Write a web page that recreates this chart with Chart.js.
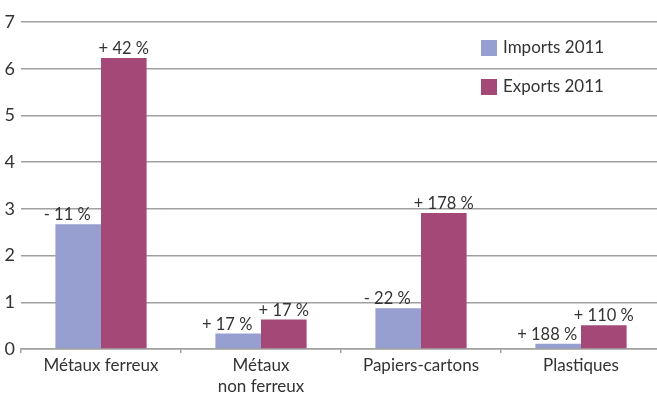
<!DOCTYPE html>
<html>
<head>
<meta charset="utf-8">
<script src="https://cdn.jsdelivr.net/npm/chart.js@4.4.0/dist/chart.umd.min.js"></script>
<style>
  html, body { margin: 0; padding: 0; background: #fff; overflow: hidden; }
  #wrap { width: 661px; height: 395px; position: relative; }
</style>
</head>
<body>
<div id="wrap"><canvas id="c"></canvas></div>
<script>
// Tonnages (millions of tonnes) of recovered materials, 2011
const categories = [['Métaux ferreux'], ['Métaux', 'non ferreux'], ['Papiers-cartons'], ['Plastiques']];
const seriesNames = ['Imports 2011', 'Exports 2011'];
const imports2011 = [2.67, 0.33, 0.87, 0.11];
const exports2011 = [6.23, 0.63, 2.91, 0.51];
// Change versus previous year, printed over each bar
const importChange = ['- 11 %', '+ 17 %', '- 22 %', '+ 188 %'];
const exportChange = ['+ 42 %', '+ 17 %', '+ 178 %', '+ 110 %'];
const yTickValues = [0, 1, 2, 3, 4, 5, 6, 7];

const colors = ['#979fd0', '#a34877'];
const FONT = 'Lato, "Noto Sans", sans-serif';
const TEXT = '#333';

// Percentage labels above bars
const changeLabels = {
  id: 'changeLabels',
  afterDatasetsDraw(chart) {
    const ctx = chart.ctx;
    const sets = [importChange, exportChange];
    const shift = [-11, 0];
    ctx.save();
    ctx.font = '16.5px ' + FONT;
    ctx.fillStyle = TEXT;
    ctx.textAlign = 'center';
    ctx.textBaseline = 'bottom';
    chart.data.datasets.forEach((ds, i) => {
      chart.getDatasetMeta(i).data.forEach((bar, j) => {
        ctx.fillText(sets[i][j], bar.x + shift[i], bar.y - 1);
      });
    });
    ctx.restore();
  }
};

// Legend boxes at the upper right
const sideLegend = {
  id: 'sideLegend',
  afterDraw(chart) {
    const ctx = chart.ctx;
    ctx.save();
    ctx.font = '17px ' + FONT;
    ctx.textBaseline = 'middle';
    ctx.textAlign = 'left';
    chart.data.datasets.forEach((ds, i) => {
      const y = 40 + i * 39;
      ctx.fillStyle = ds.backgroundColor;
      ctx.fillRect(481, y, 16, 16);
      ctx.fillStyle = TEXT;
      ctx.fillText(ds.label, 503, y + 8);
    });
    ctx.restore();
  }
};

new Chart(document.getElementById('c'), {
  type: 'bar',
  data: {
    labels: categories,
    datasets: [
      { label: seriesNames[0], data: imports2011, backgroundColor: colors[0] },
      { label: seriesNames[1], data: exports2011, backgroundColor: colors[1] }
    ]
  },
  options: {
    responsive: true,
    maintainAspectRatio: false,
    animation: false,
    layout: { padding: { top: 22, right: 0, left: 0, bottom: 0 } },
    datasets: { bar: { categoryPercentage: 0.57, barPercentage: 1.0 } },
    plugins: { legend: { display: false }, tooltip: { enabled: false } },
    scales: {
      x: {
        afterFit(s) { s.height = 46; },
        grid: { offset: true, drawOnChartArea: false, drawTicks: true, tickLength: 4, color: '#a0a0a0', lineWidth: 1.5 },
        border: { color: '#a0a0a0', width: 1.5 },
        ticks: { color: TEXT, font: { family: FONT, size: 17, lineHeight: 1.25 }, padding: 2 }
      },
      y: {
        min: 0, max: 7,
        afterFit(s) { s.width = 21; },
        afterBuildTicks(s) { s.ticks = yTickValues.map(v => ({ value: v })); },
        grid: { color: '#a0a0a0', lineWidth: 1.5, drawTicks: false },
        border: { display: false },
        ticks: { color: TEXT, font: { family: FONT, size: 18 }, padding: 6 }
      }
    }
  },
  plugins: [changeLabels, sideLegend]
});
</script>
</body>
</html>
